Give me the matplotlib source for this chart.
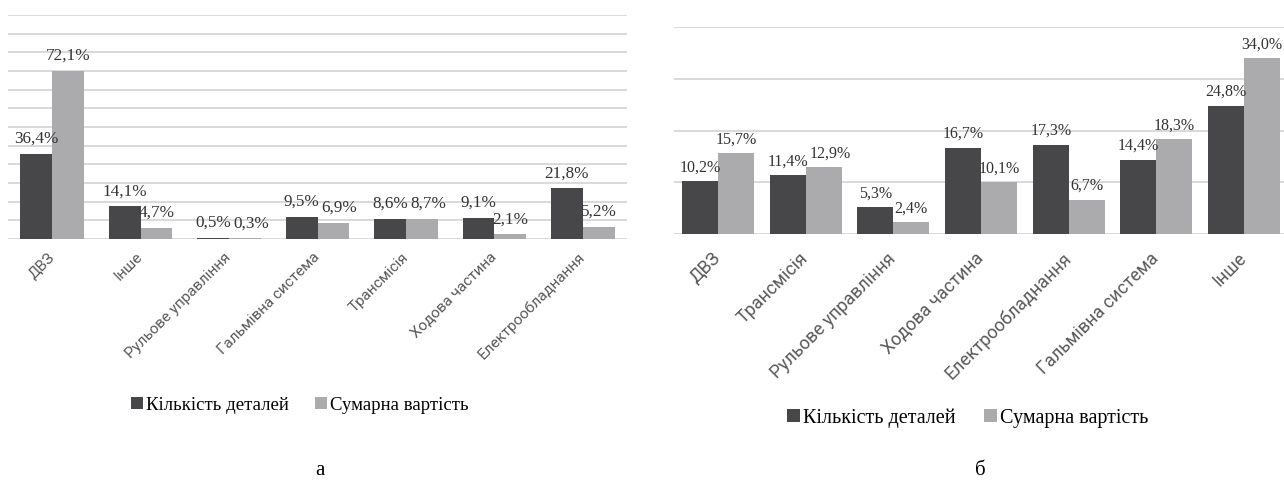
import matplotlib.pyplot as plt
import numpy as np

# а: розподіл за системами (варіант 1)
cats_a = ['ДВЗ', 'Інше', 'Рульове управління', 'Гальмівна система',
          'Трансмісія', 'Ходова частина', 'Електрообладнання']
count_a = [36.4, 14.1, 0.5, 9.5, 8.6, 9.1, 21.8]
cost_a = [72.1, 4.7, 0.3, 6.9, 8.7, 2.1, 5.2]

# б: розподіл за системами (варіант 2)
cats_b = ['ДВЗ', 'Трансмісія', 'Рульове управління', 'Ходова частина',
          'Електрообладнання', 'Гальмівна система', 'Інше']
count_b = [10.2, 11.4, 5.3, 16.7, 17.3, 14.4, 24.8]
cost_b = [15.7, 12.9, 2.4, 10.1, 6.7, 18.3, 34.0]

series_names = ['Кількість деталей', 'Сумарна вартість']

DARK = '#474749'
LIGHT = '#abaaac'
GRID = '#d9d9d9'
SERIF = 'Liberation Serif'
SANS = 'Roboto'

W, H = 1284, 486
fig = plt.figure(figsize=(W / 100, H / 100), dpi=100)


def pct(v):
    return f'{v:.1f}%'.replace('.', ',')


def draw_panel(rect, cats, counts, costs, ymax, ystep, width,
               lab_size, lab_off, tick_size, tick_pad, leg_size, leg_pos):
    ax = fig.add_axes(rect)
    x = np.arange(len(cats))
    b1 = ax.bar(x - width / 2, counts, width, color=DARK, label=series_names[0], zorder=3)
    b2 = ax.bar(x + width / 2, costs, width, color=LIGHT, label=series_names[1], zorder=3)
    labels = []
    for bars, vals in ((b1, counts), (b2, costs)):
        row = []
        for r, v in zip(bars, vals):
            t = ax.annotate(pct(v), (r.get_x() + r.get_width() / 2, v),
                            xytext=(0, lab_off), textcoords='offset points',
                            ha='center', va='bottom', fontsize=lab_size,
                            family=SERIF, color='#333333', zorder=4)
            row.append(t)
        labels.append(row)
    ax.set_xlim(-0.5, len(cats) - 0.5)
    ax.set_ylim(0, ymax)
    ax.set_yticks(np.arange(0, ymax + 0.1, ystep))
    ax.yaxis.grid(True, color=GRID, lw=1.4)
    ax.set_axisbelow(True)
    ax.tick_params(left=False, labelleft=False, bottom=False, pad=tick_pad)
    for s in ax.spines.values():
        s.set_visible(False)
    ax.set_xticks(x)
    ax.set_xticklabels(cats, rotation=45, ha='right', va='center',
                       rotation_mode='anchor', fontsize=tick_size,
                       family=SANS, color='#595959')
    fig.legend(handles=[b1, b2], loc='center', bbox_to_anchor=leg_pos,
               ncol=2, frameon=False, handlelength=0.65, handleheight=0.65,
               handletextpad=0.15, columnspacing=1.4,
               prop={'family': SERIF, 'size': leg_size})
    return labels


def push_apart(labels):
    # зсуваємо підпис другого ряду вправо, якщо він налазить на сусідній
    fig.canvas.draw()
    r = fig.canvas.get_renderer()
    for t1, t2 in zip(*labels):
        e1, e2 = t1.get_window_extent(r), t2.get_window_extent(r)
        if e1.overlaps(e2):
            dx = (e1.x1 - e2.x0 + 2) * 72 / fig.dpi
            ox, oy = t2.xyann
            t2.xyann = (ox + dx, oy)


lab_a = draw_panel([8 / W, 247 / H, 619 / W, 224 / H], cats_a, count_a, cost_a,
                   96, 8, 0.36, 12.3, 5, 11, 8, 13.5, (300 / W, 1 - 405 / H))
lab_b = draw_panel([674 / W, 251.7 / H, 614 / W, 207.6 / H], cats_b, count_b, cost_b,
                   40, 10, 0.41, 11.5, 4, 13, 12, 14.5, (968 / W, 1 - 418 / H))
push_apart(lab_a)
push_apart(lab_b)

fig.text(320 / W, 1 - 470 / H, 'а', ha='center', va='center', family=SERIF, fontsize=15)
fig.text(980 / W, 1 - 470 / H, 'б', ha='center', va='center', family=SERIF, fontsize=15)

fig.savefig('out.png', dpi=100)
